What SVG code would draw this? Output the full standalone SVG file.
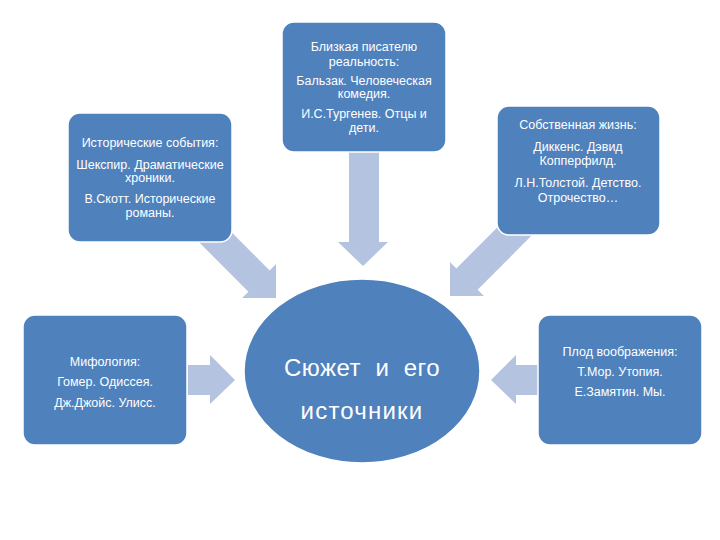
<svg xmlns="http://www.w3.org/2000/svg" width="720" height="540" viewBox="0 0 720 540">
  <style>
    .box { fill: #4f81bd; stroke: #ffffff; stroke-width: 1.5; }
    .arrow { fill: #b4c3df; stroke: none; }
    .t { fill: #ffffff; font-family: "Liberation Sans", "DejaVu Sans", sans-serif; font-size: 12.5px; text-anchor: middle; }
    .big { fill: #ffffff; font-family: "Liberation Sans", "DejaVu Sans", sans-serif; font-size: 24px; text-anchor: middle; white-space: pre; }
  </style>
  <rect width="720" height="540" fill="#ffffff"/>
  <g id="connectors">
    <polygon class="arrow" points="349,150 379,150 379,242 388,242 363,266 338,242 349,242"/>
    <polygon class="arrow" transform="translate(276,298) rotate(45)" points="-110,-15 -24,-15 -24,-24 0,0 -24,24 -24,15 -110,15"/>
    <polygon class="arrow" transform="translate(450,296) rotate(135)" points="-110,-15 -24,-15 -24,-24 0,0 -24,24 -24,15 -110,15"/>
    <polygon class="arrow" points="188,365 210,365 210,355 235,380 210,404 210,395 188,395"/>
    <polygon class="arrow" points="538,365 516,365 516,355 491,380 516,404 516,395 538,395"/>
  </g>
  <g id="node-history">
    <rect class="box" x="68" y="113" width="164" height="129" rx="12"/>
    <text class="t" x="150" y="147">Исторические события:</text>
    <text class="t" x="150" y="169">Шекспир. Драматические</text>
    <text class="t" x="150" y="182">хроники.</text>
    <text class="t" x="150" y="203">В.Скотт. Исторические</text>
    <text class="t" x="150" y="217">романы.</text>
  </g>
  <g id="node-reality">
    <rect class="box" x="282" y="22" width="164" height="130" rx="12"/>
    <text class="t" x="364" y="51">Близкая писателю</text>
    <text class="t" x="364" y="66">реальность:</text>
    <text class="t" x="364" y="85">Бальзак. Человеческая</text>
    <text class="t" x="364" y="98">комедия.</text>
    <text class="t" x="364" y="118">И.С.Тургенев. Отцы и</text>
    <text class="t" x="364" y="132">дети.</text>
  </g>
  <g id="node-life">
    <rect class="box" x="497" y="106" width="163" height="129" rx="12"/>
    <text class="t" x="578" y="129">Собственная жизнь:</text>
    <text class="t" x="578" y="151">Диккенс. Дэвид</text>
    <text class="t" x="578" y="165">Копперфилд.</text>
    <text class="t" x="578" y="187">Л.Н.Толстой. Детство.</text>
    <text class="t" x="578" y="202">Отрочество…</text>
  </g>
  <g id="node-myth">
    <rect class="box" x="23" y="315" width="164" height="130" rx="12"/>
    <text class="t" x="105" y="366">Мифология:</text>
    <text class="t" x="105" y="386">Гомер. Одиссея.</text>
    <text class="t" x="105" y="407">Дж.Джойс. Улисс.</text>
  </g>
  <g id="node-imagination">
    <rect class="box" x="538" y="315" width="164" height="130" rx="12"/>
    <text class="t" x="620" y="356">Плод воображения:</text>
    <text class="t" x="620" y="376">Т.Мор. Утопия.</text>
    <text class="t" x="620" y="396">Е.Замятин. Мы.</text>
  </g>
  <g id="node-center">
    <ellipse class="box" cx="362" cy="371" rx="118" ry="92"/>
    <text class="big" x="362" y="376" letter-spacing="0.5">Сюжет  и  его</text>
    <text class="big" x="362" y="419" letter-spacing="1.2">источники</text>
  </g>
</svg>
